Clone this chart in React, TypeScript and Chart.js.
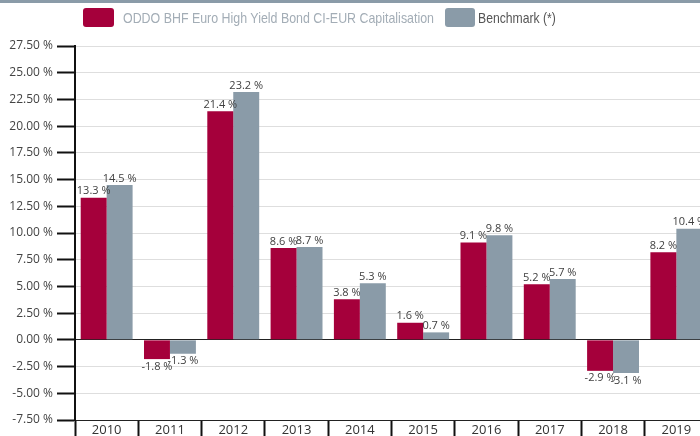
import React, { useEffect, useRef } from "react";
import { Chart, registerables } from "chart.js";

Chart.register(...registerables);

const years = ["2010", "2011", "2012", "2013", "2014", "2015", "2016", "2017", "2018", "2019"];
const fundValues = [13.3, -1.8, 21.4, 8.6, 3.8, 1.6, 9.1, 5.2, -2.9, 8.2];
const benchmarkValues = [14.5, -1.3, 23.2, 8.7, 5.3, 0.7, 9.8, 5.7, -3.1, 10.4];
const fundName = "ODDO BHF Euro High Yield Bond CI-EUR Capitalisation";
const benchmarkName = "Benchmark (*)";
const yMin = -7.5;
const yMax = 27.5;
const yStep = 2.5;

const RED = "#a5003b";
const GRAY = "#8a9ba8";

const valueLabels = {
  id: "valueLabels",
  afterDatasetsDraw(chart: any) {
    const ctx = chart.ctx;
    ctx.save();
    ctx.font = "11px 'Open Sans'";
    ctx.fillStyle = "#404040";
    ctx.textAlign = "center";
    chart.data.datasets.forEach((ds: any, di: number) => {
      const meta = chart.getDatasetMeta(di);
      meta.data.forEach((bar: any, i: number) => {
        const v = ds.data[i];
        const txt = v.toFixed(1) + " %";
        if (v >= 0) {
          ctx.textBaseline = "bottom";
          ctx.fillText(txt, bar.x, bar.y - 1);
        } else {
          ctx.textBaseline = "top";
          ctx.fillText(txt, bar.x, bar.y + 2);
        }
      });
    });
    ctx.restore();
  },
};

export default function App() {
  const ref = useRef<HTMLCanvasElement>(null);
  const fundRef = useRef<HTMLSpanElement>(null);
  const benchRef = useRef<HTMLSpanElement>(null);

  useEffect(() => {
    const fit = (el: HTMLSpanElement | null, target: number) => {
      if (!el) return;
      const w = el.offsetWidth;
      if (w > 0) el.style.transform = `scaleX(${target / w})`;
    };
    fit(fundRef.current, 311);
    fit(benchRef.current, 78);
  }, []);

  useEffect(() => {
    if (!ref.current) return;
    const chart = new Chart(ref.current, {
      type: "bar",
      data: {
        labels: years,
        datasets: [
          { label: fundName, data: fundValues, backgroundColor: RED, borderWidth: 0 },
          { label: benchmarkName, data: benchmarkValues, backgroundColor: GRAY, borderWidth: 0 },
        ],
      },
      options: {
        animation: false,
        responsive: false,
        layout: { padding: { top: 46, right: 8, left: 0, bottom: 0 } },
        datasets: { bar: { categoryPercentage: 0.82, barPercentage: 1 } },
        plugins: { legend: { display: false }, tooltip: { enabled: false } },
        scales: {
          x: {
            afterFit: (s: any) => { s.height = 16; },
            grid: {
              offset: true,
              drawOnChartArea: false,
              drawTicks: true,
              tickLength: 16,
              tickColor: "#111",
              tickWidth: 2,
            },
            border: { display: true, color: "#222", width: 1 },
            ticks: {
              padding: -14,
              color: "#333",
              font: { family: "'Open Sans'", size: 13 },
              maxRotation: 0,
            },
          },
          y: {
            min: yMin,
            max: yMax,
            afterFit: (s: any) => { s.width = 75; },
            grid: {
              color: (c: any) => (c.tick && c.tick.value === 0 ? "#222" : "#dedede"),
              tickColor: "#111",
              tickLength: 18,
              tickWidth: 2,
            },
            border: { display: true, color: "#111", width: 2 },
            ticks: {
              stepSize: yStep,
              padding: 4,
              color: "#444",
              font: { family: "'Open Sans'", size: 12 },
              callback: (v: any) => Number(v).toFixed(2) + " %",
            },
          },
        },
      },
      plugins: [valueLabels],
    });
    return () => chart.destroy();
  }, []);

  const legendText = {
    position: "absolute" as const,
    top: 8,
    height: 19,
    lineHeight: "19px",
    fontFamily: "'Liberation Sans', Arial, sans-serif",
    fontSize: 15,
    whiteSpace: "nowrap" as const,
    display: "inline-block",
    transformOrigin: "0 50%",
  };

  return (
    <div style={{ position: "fixed", left: 0, top: 0, width: 700, height: 436, overflow: "hidden", background: "#fff" }}>
      <div style={{ position: "absolute", left: 0, top: 0, width: 700, height: 3, background: GRAY }} />
      <canvas ref={ref} width={716} height={436} style={{ display: "block", position: "absolute", left: 0, top: 0 }} />
      <div style={{ position: "absolute", left: 83, top: 8, width: 31, height: 19, borderRadius: 3, background: RED }} />
      <span ref={fundRef} style={{ ...legendText, left: 123, color: "#a3adb6" }}>{fundName}</span>
      <div style={{ position: "absolute", left: 445, top: 8, width: 30, height: 19, borderRadius: 3, background: GRAY }} />
      <span ref={benchRef} style={{ ...legendText, left: 478, color: "#555" }}>{benchmarkName}</span>
    </div>
  );
}
